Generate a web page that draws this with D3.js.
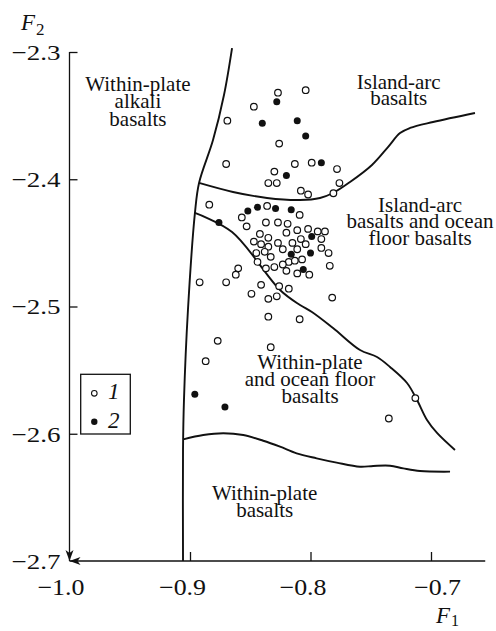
<!DOCTYPE html>
<html><head><meta charset="utf-8">
<script src="https://cdn.jsdelivr.net/npm/d3@7"></script>
<style>
html,body{margin:0;padding:0;background:#fff;}
svg{display:block;}
text{font-family:"Liberation Serif","Times New Roman",serif;fill:#111;}
</style></head><body>
<svg id="chart" width="496" height="631"></svg>
<script>
// ---------- data ----------
const xTicks = [-1.0, -0.9, -0.8, -0.7];
const yTicks = [-2.3, -2.4, -2.5, -2.6, -2.7];
const xTickLabels = ["\u22121.0", "\u22120.9", "\u22120.8", "\u22120.7"];
const yTickLabels = ["\u22122.3", "\u22122.4", "\u22122.5", "\u22122.6", "\u22122.7"];

// series 1 (open circles)
const group1F1 = [-0.827,-0.804,-0.847,-0.869,-0.826,-0.870,-0.813,-0.799,-0.830,-0.778,
 -0.835,-0.828,-0.776,-0.808,-0.802,-0.781,-0.884,-0.836,-0.809,-0.857,
 -0.853,-0.837,-0.827,-0.819,-0.842,-0.835,-0.820,-0.811,-0.802,-0.794,
 -0.788,-0.791,-0.847,-0.841,-0.835,-0.827,-0.815,-0.808,-0.804,-0.823,
 -0.811,-0.791,-0.785,-0.845,-0.838,-0.833,-0.818,-0.813,-0.807,-0.844,
 -0.823,-0.837,-0.830,-0.820,-0.811,-0.801,-0.784,-0.860,-0.862,-0.892,
 -0.870,-0.841,-0.826,-0.818,-0.849,-0.835,-0.828,-0.782,-0.835,-0.809,
 -0.877,-0.833,-0.887,-0.713,-0.735];
const group1F2 = [-2.332,-2.330,-2.343,-2.354,-2.372,-2.388,-2.388,-2.387,-2.394,-2.392,
 -2.403,-2.403,-2.403,-2.409,-2.412,-2.411,-2.420,-2.421,-2.428,-2.430,
 -2.437,-2.434,-2.434,-2.435,-2.443,-2.446,-2.442,-2.440,-2.439,-2.441,
 -2.441,-2.447,-2.449,-2.451,-2.453,-2.450,-2.450,-2.447,-2.451,-2.455,
 -2.455,-2.454,-2.458,-2.458,-2.457,-2.461,-2.465,-2.464,-2.463,-2.465,
 -2.467,-2.470,-2.469,-2.472,-2.474,-2.475,-2.468,-2.470,-2.475,-2.481,
 -2.481,-2.483,-2.484,-2.486,-2.490,-2.494,-2.492,-2.493,-2.508,-2.510,
 -2.527,-2.532,-2.543,-2.572,-2.588];

// series 2 (filled circles)
const group2F1 = [-0.828,-0.840,-0.811,-0.804,-0.791,-0.820,-0.876,-0.852,-0.844,-0.829,
 -0.816,-0.799,-0.816,-0.800,-0.806,-0.896,-0.871];
const group2F2 = [-2.339,-2.356,-2.354,-2.366,-2.387,-2.397,-2.434,-2.425,-2.422,-2.423,
 -2.424,-2.445,-2.459,-2.458,-2.471,-2.569,-2.579];

const legendLabels = ["1", "2"];

// discriminant field boundaries [F1, F2]
const boundaryLeft = [[-0.8651,-2.2969],[-0.8718,-2.3338],[-0.8809,-2.3692],[-0.8925,-2.4029],
 [-0.8959,-2.4265],[-0.9017,-2.5028],[-0.9050,-2.5735],[-0.9058,-2.6128],[-0.9058,-2.7]];
const boundaryIslandArc = [[-0.8925,-2.4029],[-0.8643,-2.4100],[-0.8361,-2.4147],[-0.8087,-2.4163],
 [-0.7921,-2.4147],[-0.7813,-2.4108],[-0.7672,-2.4022],[-0.7490,-2.3888],[-0.7357,-2.3747],
 [-0.7257,-2.3637],[-0.7174,-2.3597],[-0.6983,-2.3550],[-0.6635,-2.3479]];
const boundaryDiagonal = [[-0.8959,-2.4265],[-0.8651,-2.4415],[-0.8253,-2.4870],[-0.8087,-2.4988],
 [-0.7988,-2.5043],[-0.7813,-2.5169],[-0.7589,-2.5342],[-0.7448,-2.5397],[-0.7340,-2.5475],
 [-0.7199,-2.5601],[-0.7116,-2.5735],[-0.7033,-2.5892],[-0.6950,-2.5994],[-0.6801,-2.6128]];
const boundaryBottom = [[-0.9056,-2.6044],[-0.8890,-2.6010],[-0.8724,-2.5996],[-0.8558,-2.6010],
 [-0.8392,-2.6055],[-0.8253,-2.6102],[-0.8115,-2.6154],[-0.7949,-2.6193],[-0.7783,-2.6227],
 [-0.7589,-2.6259],[-0.7479,-2.6253],[-0.7340,-2.6251],[-0.7230,-2.6272],[-0.7091,-2.6293],[-0.6842,-2.6298]];

const fieldNames = [
  ["Within-plate", "alkali", "basalts"],
  ["Island-arc", "basalts"],
  ["Island-arc", "basalts and ocean", "floor basalts"],
  ["Within-plate", "and ocean floor", "basalts"],
  ["Within-plate", "basalts"]
];

// ---------- drawing ----------
const svg = d3.select("#chart");
const x = d3.scaleLinear().domain([-1.0, -0.7]).range([69.5, 431]);
const y = d3.scaleLinear().domain([-2.7, -2.3]).range([561, 52]);

const ink = "#111";

// x axis
const xAxis = d3.axisBottom(x).tickValues(xTicks)
  .tickFormat((d, i) => xTickLabels[i]).tickSize(-9).tickPadding(0);
const gx = svg.append("g").attr("transform", `translate(0,${y(-2.7)})`).call(xAxis);
gx.select(".domain").remove();
gx.selectAll(".tick line").attr("stroke", ink).attr("stroke-width", 1.3);
const xOff = [-9, -8, -8, 6];
gx.selectAll(".tick text")
  .attr("y", 34).attr("dy", 0)
  .attr("dx", (d, i) => xOff[i])
  .attr("font-size", 23).attr("fill", ink)
  .attr("textLength", 47).attr("lengthAdjust", "spacingAndGlyphs")
  .style("font-family", '"Liberation Serif", serif');
gx.selectAll(".tick").filter(d => d === -1.0).select("line").remove();

// y axis
const yAxis = d3.axisLeft(y).tickValues(yTicks)
  .tickFormat((d, i) => yTickLabels[i]).tickSize(-8).tickPadding(9);
const gy = svg.append("g").attr("transform", `translate(${x(-1.0)},0)`).call(yAxis);
gy.select(".domain").remove();
gy.selectAll(".tick line").attr("stroke", ink).attr("stroke-width", 1.3);
gy.selectAll(".tick").filter(d => d === -2.7).select("line").remove();
gy.selectAll(".tick text")
  .attr("font-size", 22).attr("fill", ink).attr("dy", "0.33em")
  .attr("textLength", 49).attr("lengthAdjust", "spacingAndGlyphs")
  .style("font-family", '"Liberation Serif", serif');

// axis lines
const ox = x(-1.0), oy = y(-2.7);
svg.append("line").attr("x1", ox).attr("x2", ox).attr("y1", y(-2.3)).attr("y2", oy)
  .attr("stroke", ink).attr("stroke-width", 1.3);
svg.append("line").attr("x1", ox).attr("x2", x(-0.655)).attr("y1", oy).attr("y2", oy)
  .attr("stroke", ink).attr("stroke-width", 1.3);
// arrowheads pointing to origin
svg.append("path")
  .attr("d", `M${ox},${oy} L${ox-4},${oy-11} L${ox},${oy-8} L${ox+4},${oy-11} Z`)
  .attr("fill", ink);
svg.append("path")
  .attr("d", `M${ox},${oy} L${ox+11},${oy-4} L${ox+8},${oy} L${ox+11},${oy+4} Z`)
  .attr("fill", ink);

// axis titles
const t2 = svg.append("text").attr("x", 21).attr("y", 30).attr("font-size", 23).attr("font-style", "italic").attr("fill", ink);
t2.append("tspan").text("F");
t2.append("tspan").attr("font-size", 17).attr("font-style", "normal").attr("dx", 1).attr("dy", 5).text("2");
const t1 = svg.append("text").attr("x", 436).attr("y", 623).attr("font-size", 23).attr("font-style", "italic").attr("fill", ink);
t1.append("tspan").text("F");
t1.append("tspan").attr("font-size", 16).attr("font-style", "normal").attr("dx", 1).attr("dy", 3).text("1");

// boundaries
const line = d3.line().x(d => x(d[0])).y(d => y(d[1])).curve(d3.curveCatmullRom.alpha(0.5));
[boundaryLeft, boundaryIslandArc, boundaryDiagonal, boundaryBottom].forEach(b => {
  svg.append("path").attr("d", line(b)).attr("fill", "none")
    .attr("stroke", ink).attr("stroke-width", 1.9).attr("stroke-linejoin", "round");
});

// field names
const fieldPos = [[-0.9432,-2.3304,17.6],[-0.7268,-2.3293,16],[-0.7091,-2.4255,16.7],[-0.8004,-2.5494,17],[-0.838,-2.6521,17.3]];
fieldNames.forEach((lines, i) => {
  const [fx, fy, lh] = fieldPos[i];
  const t = svg.append("text").attr("text-anchor", "middle").attr("font-size", 21).attr("fill", ink);
  lines.forEach((s, j) => {
    t.append("tspan").attr("x", x(fx)).attr("y", y(fy) + j * lh).text(s);
  });
});

// points
const pts1 = group1F1.map((v, i) => [v, group1F2[i]]);
const pts2 = group2F1.map((v, i) => [v, group2F2[i]]);
svg.append("g").selectAll("circle").data(pts1).join("circle")
  .attr("cx", d => x(d[0])).attr("cy", d => y(d[1])).attr("r", 3.3)
  .attr("fill", "#fff").attr("stroke", ink).attr("stroke-width", 1.2);
svg.append("g").selectAll("circle").data(pts2).join("circle")
  .attr("cx", d => x(d[0])).attr("cy", d => y(d[1])).attr("r", 3.5)
  .attr("fill", ink);

// legend
const lg = svg.append("g");
lg.append("rect").attr("x", 80.7).attr("y", 374.3).attr("width", 49.6).attr("height", 59.7)
  .attr("fill", "#fff").attr("stroke", ink).attr("stroke-width", 1.3);
lg.append("circle").attr("cx", 94.3).attr("cy", 393.3).attr("r", 2.8)
  .attr("fill", "#fff").attr("stroke", ink).attr("stroke-width", 1.1);
lg.append("circle").attr("cx", 94.3).attr("cy", 421.7).attr("r", 3.2).attr("fill", ink);
lg.selectAll("text.lab").data(legendLabels).join("text").attr("class", "lab")
  .attr("x", 108).attr("y", (d, i) => 399 + i * 29)
  .attr("font-size", 23).attr("font-style", "italic").attr("fill", ink).text(d => d);
</script>
</body></html>
